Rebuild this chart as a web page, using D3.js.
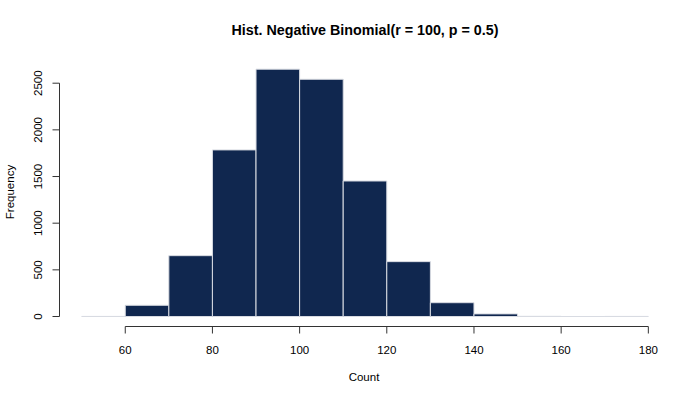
<!DOCTYPE html>
<html><head><meta charset="utf-8">
<script src="https://cdn.jsdelivr.net/npm/d3@7"></script>
<style>body{margin:0;background:#fff}svg{display:block}text{font-family:"Liberation Sans",Arial,sans-serif;fill:#000}</style>
</head><body>
<script>
const binStarts = [50,60,70,80,90,100,110,120,130,140,150,160,170];
const binWidth = 10;
const counts = [1,120,652,1785,2650,2542,1452,588,148,28,2,0,1];
const xTicks = [60,80,100,120,140,160,180];
const yTicks = [0,500,1000,1500,2000,2500];
const title = "Hist. Negative Binomial(r = 100, p = 0.5)";

const W=700,H=400;
const svg=d3.select("body").append("svg").attr("width",W).attr("height",H);
const xmin=50,xmax=180, ymax=d3.max(counts);
const xe=(xmax-xmin)*0.04, ye=ymax*0.04;
const x=d3.scaleLinear().domain([xmin-xe,xmax+xe]).range([59,671]);
const y=d3.scaleLinear().domain([-ye,ymax+ye]).range([326.4,59.3]);

svg.append("g").selectAll("path").data(binStarts).join("path")
  .attr("d",(d,i)=>{const p=d3.path();const x0=x(d),x1=x(d+binWidth),y0=y(0),y1=y(counts[i]);
     p.moveTo(x0,y0);p.lineTo(x0,y1);p.lineTo(x1,y1);p.lineTo(x1,y0);p.closePath();return p.toString();})
  .attr("fill","#10274f").attr("stroke","#d8dbe2").attr("stroke-width",1);

// x axis
const xa=svg.append("g").attr("transform","translate(0,326.5)");
xa.append("line").attr("x1",x(xTicks[0])).attr("x2",x(xTicks[xTicks.length-1])).attr("stroke","#333");
xa.selectAll("line.t").data(xTicks).join("line").attr("class","t")
  .attr("x1",d=>x(d)).attr("x2",d=>x(d)).attr("y1",0).attr("y2",7).attr("stroke","#333");
xa.selectAll("text").data(xTicks).join("text").attr("x",d=>x(d)).attr("y",27)
  .attr("text-anchor","middle").attr("font-size",11.5).text(d=>d);

// y axis
const ya=svg.append("g").attr("transform","translate(59.5,0)");
ya.append("line").attr("y1",y(yTicks[0])).attr("y2",y(yTicks[yTicks.length-1])).attr("stroke","#333");
ya.selectAll("line.t").data(yTicks).join("line").attr("class","t")
  .attr("y1",d=>y(d)).attr("y2",d=>y(d)).attr("x1",0).attr("x2",-7).attr("stroke","#333");
ya.selectAll("text").data(yTicks).join("text")
  .attr("transform",d=>`translate(-18,${y(d)}) rotate(-90)`)
  .attr("text-anchor","middle").attr("font-size",11.5).text(d=>d);

svg.append("text").attr("x",365).attr("y",35).attr("text-anchor","middle")
  .attr("font-size",14.3).attr("font-weight","bold").text(title);
svg.append("text").attr("x",364).attr("y",381).attr("text-anchor","middle")
  .attr("font-size",11.5).text("Count");
svg.append("text").attr("transform","translate(14,192) rotate(-90)").attr("text-anchor","middle")
  .attr("font-size",11.5).text("Frequency");
</script>
</body></html>
